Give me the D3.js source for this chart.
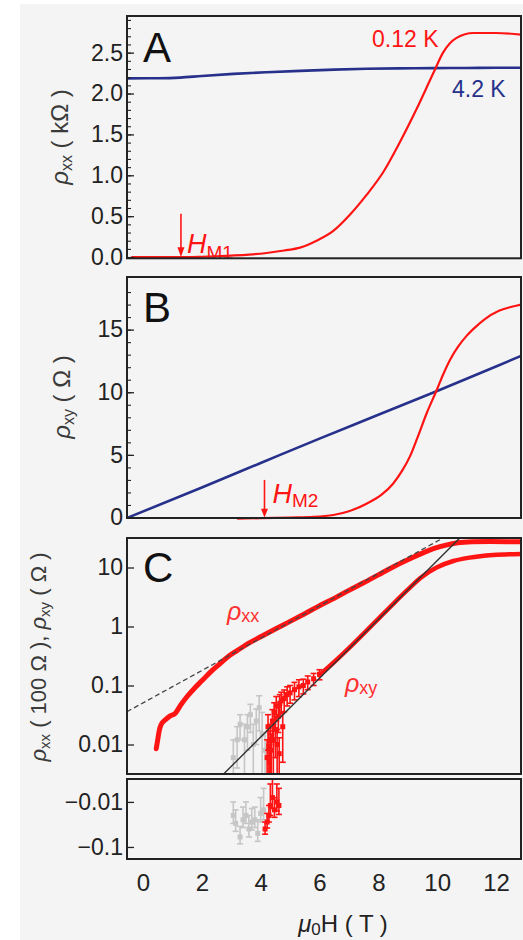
<!DOCTYPE html>
<html>
<head>
<meta charset="utf-8">
<script src="https://d3js.org/d3.v7.min.js"></script>
<style>
  body { margin: 0; background: #fff; }
  svg text { font-family: "Liberation Sans", Arial, sans-serif; }
</style>
</head>
<body>
<svg id="fig" width="523" height="940"></svg>
<script>
// ---- panel A : rho_xx (kOhm)
var aRedX = [-0.4, 0.5, 1.0, 1.5, 2.0, 2.5, 3.0, 3.6, 4.2, 4.8, 5.34, 5.9, 6.47, 7.04, 7.6, 8.17, 8.74, 9.3, 9.87, 10.2, 10.66, 11.23, 12.0, 12.86];
var aRedY = [0.0, 0.0, 0.0, 0.0, 0.004, 0.01, 0.018, 0.03, 0.05, 0.08, 0.115, 0.2, 0.32, 0.52, 0.76, 1.04, 1.41, 1.81, 2.25, 2.5, 2.68, 2.74, 2.74, 2.72];
var aBlueX = [-0.54, 0.5, 1.26, 2.0, 3.07, 4.2, 5.34, 6.5, 7.6, 8.7, 9.87, 11.0, 12.0, 12.86];
var aBlueY = [2.185, 2.187, 2.195, 2.215, 2.24, 2.26, 2.277, 2.292, 2.303, 2.308, 2.31, 2.313, 2.315, 2.315];
var aMajor = [0, 0.5, 1.0, 1.5, 2.0, 2.5];
var aMinor = d3.range(0, 2.95, 0.1);

// ---- panel B : rho_xy (Ohm)
var bRedX = [3.2, 4.0, 5.0, 5.8, 6.47, 7.0, 7.6, 8.1, 8.5, 8.8, 9.08, 9.35, 9.64, 9.99, 10.2, 10.44, 10.7, 11.0, 11.3, 11.6, 12.1, 12.5, 12.86];
var bRedY = [-0.1, -0.05, 0.0, 0.05, 0.2, 0.5, 1.1, 1.8, 2.7, 3.7, 4.9, 6.5, 8.3, 10.2, 11.4, 12.6, 13.6, 14.5, 15.2, 15.8, 16.5, 16.8, 17.0];
var bBlueX = [-0.5, 2, 4, 6, 8, 10, 12, 12.85];
var bBlueY = [0, 2.4, 4.35, 6.3, 8.2, 10.1, 12.05, 12.9];
var bMajor = [0, 5, 10, 15];
var bMinor = d3.range(0, 19, 1);

// ---- panel C : log scale, rho_xx in 100 Ohm, rho_xy in Ohm
var cXXx = [0.45, 0.5, 0.55, 0.62, 0.75, 0.9, 1.1, 1.3, 1.5, 1.75, 2.0, 2.3, 2.6, 2.9, 3.2, 3.5, 4.0, 4.5, 5.0, 5.5, 6.0, 6.5, 7.0, 7.5, 8.0, 8.5, 9.0, 9.5, 9.9, 10.3, 10.7, 11.2, 11.8, 12.4, 12.85];
var cXXy = [0.0085, 0.012, 0.017, 0.022, 0.026, 0.03, 0.034, 0.048, 0.065, 0.09, 0.12, 0.17, 0.23, 0.31, 0.39, 0.49, 0.67, 0.91, 1.22, 1.65, 2.25, 3.0, 4.1, 5.5, 7.5, 10.2, 13.5, 17.5, 21, 24, 26.2, 27.2, 27.5, 27.4, 27.3];
var cXYx = [6.0, 6.5, 7.0, 7.5, 8.0, 8.5, 9.0, 9.42, 9.98, 10.55, 11.1, 11.9, 12.85];
var cXYy = [0.15, 0.25, 0.43, 0.76, 1.35, 2.4, 4.2, 6.6, 10.0, 12.9, 14.7, 16.3, 17.0];
// low-field rho_xy points with error bars
var cLowX = [4.22, 4.25, 4.28, 4.3, 4.33, 4.36, 4.4, 4.43, 4.46, 4.5, 4.53, 4.56, 4.6, 4.63, 4.65, 4.7, 4.75, 4.8, 4.9, 5.0, 5.15, 5.3, 5.45, 5.6, 5.8, 6.0];
var cLowY = [0.006, 0.02, 0.009, 0.005, 0.012, 0.008, 0.025, 0.012, 0.035, 0.018, 0.045, 0.01, 0.03, 0.007, 0.05, 0.055, 0.02, 0.06, 0.07, 0.075, 0.085, 0.095, 0.1, 0.115, 0.13, 0.155];
var cLowE = [0.006, 0.012, 0.008, 0.005, 0.01, 0.007, 0.014, 0.01, 0.016, 0.012, 0.02, 0.008, 0.014, 0.006, 0.02, 0.022, 0.015, 0.024, 0.025, 0.025, 0.028, 0.03, 0.028, 0.03, 0.03, 0.03];
var cNegX = [4.15, 4.22, 4.28, 4.33, 4.4, 4.47, 4.55, 4.62];
var cNegY = [-0.04, -0.028, -0.02, -0.012, -0.008, -0.015, -0.01, -0.012];
var cNegE = [0.012, 0.01, 0.008, 0.008, 0.006, 0.007, 0.006, 0.007];
var grayX = [3.07, 3.2, 3.3, 3.45, 3.55, 3.65, 3.75, 3.85, 3.95, 4.05, 4.15];
var grayY = [0.006, 0.012, 0.022, 0.012, 0.02, 0.032, 0.01, 0.025, 0.042, 0.015, 0.008];
var grayE = [0.006, 0.008, 0.01, 0.01, 0.012, 0.016, 0.012, 0.015, 0.025, 0.02, 0.008];
var grayNegX = [3.07, 3.15, 3.3, 3.4, 3.5, 3.6, 3.7, 3.8, 3.9, 4.0, 4.1];
var grayNegY = [-0.02, -0.03, -0.06, -0.025, -0.02, -0.04, -0.028, -0.025, -0.05, -0.018, -0.015];
var grayNegE = [0.01, 0.015, 0.025, 0.012, 0.01, 0.02, 0.014, 0.012, 0.025, 0.01, 0.01];
// exponential fits (two end points each)
var fitXX = [[-0.544, 0.036], [10.2, 31.6]];
var fitXY = [[2.74, 0.00316], [10.77, 31.6]];
var cMajor = [0.01, 0.1, 1, 10];
var cNegTicks = [0.01, 0.1];

var xTicks = [0, 2, 4, 6, 8, 10, 12];
var hM1 = 1.29, hM2 = 4.13;

var RED = "#ff1414", BLUE = "#27318b", INK = "#222";

var svg = d3.select("#fig");
svg.append("rect").attr("x", 20).attr("y", 4).attr("width", 503).attr("height", 936).attr("fill", "#f4f4f4");

var x = d3.scaleLinear().domain([-0.544, 12.85]).range([127, 521]);
var yA = d3.scaleLinear().domain([-0.015, 2.948]).range([258.3, 16]);
var yB = d3.scaleLinear().domain([-0.04, 19.2]).range([518, 277]);
var yC = d3.scaleLog().domain([Math.pow(10, -2.5), Math.pow(10, 1.5)]).range([774, 538]);
var yN = d3.scaleLog().domain([0.0031, 0.185]).range([779, 859]);

var defs = svg.append("defs");
function clip(id, y0, y1) {
  defs.append("clipPath").attr("id", id).append("rect")
    .attr("x", 127).attr("y", y0).attr("width", 394).attr("height", y1 - y0);
  return svg.append("g").attr("clip-path", "url(#" + id + ")");
}

function line(ys) {
  return d3.line().x(function(d){ return x(d[0]); }).y(function(d){ return ys(d[1]); }).curve(d3.curveMonotoneX);
}

function yAxis(scale, major, minor, fmt) {
  var g = svg.append("g").attr("transform", "translate(127,0)")
    .call(d3.axisLeft(scale).tickValues(major).tickSize(-7).tickPadding(4).tickFormat(fmt));
  g.select(".domain").remove();
  g.attr("font-size", 23).attr("font-family", "Liberation Sans, Arial, sans-serif").attr("color", INK);
  g.selectAll("line").attr("stroke-width", 1.3);
  if (minor) {
    var m = svg.append("g").attr("transform", "translate(127,0)")
      .call(d3.axisLeft(scale).tickValues(minor).tickSize(-4).tickFormat(""));
    m.select(".domain").remove();
    m.attr("color", INK).selectAll("line").attr("stroke-width", 1.1);
  }
}

// ---------- panel A
var gA = clip("clipA", 16, 262);
gA.append("path").datum(d3.zip(aBlueX, aBlueY)).attr("d", line(yA))
  .attr("fill", "none").attr("stroke", BLUE).attr("stroke-width", 2.6);
gA.append("path").datum(d3.zip(aRedX, aRedY)).attr("d", line(yA))
  .attr("fill", "none").attr("stroke", RED).attr("stroke-width", 2.2);
yAxis(yA, aMajor, aMinor, d3.format(".1f"));

var gA2 = clip("clipA2", 16, 258.3);
gA2.append("line").attr("x1", x(hM1)).attr("x2", x(hM1)).attr("y1", yA(0.53)).attr("y2", yA(0.1))
  .attr("stroke", RED).attr("stroke-width", 1.6);
gA2.append("path").attr("d", "M" + (x(hM1) - 3.5) + "," + yA(0.12) + "L" + (x(hM1) + 3.5) + "," + yA(0.12) + "L" + x(hM1) + "," + yA(0) + "Z").attr("fill", RED);
var tA = gA2.append("text").attr("x", x(hM1) + 6).attr("y", 253).attr("fill", RED);
tA.append("tspan").attr("font-style", "italic").attr("font-size", 27).text("H");
tA.append("tspan").attr("font-size", 19).attr("dy", 6).text("M1");

svg.append("text").attr("x", 143).attr("y", 62).attr("font-size", 42).attr("fill", "#111").text("A");
svg.append("text").attr("x", 372).attr("y", 47).attr("font-size", 23).attr("fill", RED).text("0.12 K");
svg.append("text").attr("x", 452).attr("y", 97).attr("font-size", 23).attr("fill", BLUE).text("4.2 K");

var tiA = svg.append("text").attr("transform", "translate(68,137) rotate(-90)")
  .attr("text-anchor", "middle").attr("font-size", 24).attr("fill", "#3a3a3a");
tiA.append("tspan").attr("font-style", "italic").text("ρ");
tiA.append("tspan").attr("font-size", 16).attr("dy", 4).text("xx");
tiA.append("tspan").attr("dy", -4).text(" ( kΩ )");

// ---------- panel B
var gB = clip("clipB", 277, 521);
gB.append("path").datum(d3.zip(bBlueX, bBlueY)).attr("d", line(yB))
  .attr("fill", "none").attr("stroke", BLUE).attr("stroke-width", 2.6);
gB.append("path").datum(d3.zip(bRedX, bRedY)).attr("d", line(yB))
  .attr("fill", "none").attr("stroke", RED).attr("stroke-width", 2.2);
yAxis(yB, bMajor, bMinor, d3.format("d"));

svg.append("line").attr("x1", x(hM2)).attr("x2", x(hM2)).attr("y1", yB(3)).attr("y2", yB(0.6))
  .attr("stroke", RED).attr("stroke-width", 1.6);
svg.append("path").attr("d", "M" + (x(hM2) - 3.5) + "," + yB(0.7) + "L" + (x(hM2) + 3.5) + "," + yB(0.7) + "L" + x(hM2) + "," + yB(0) + "Z").attr("fill", RED);
var tB = svg.append("text").attr("x", x(hM2) + 8).attr("y", 503).attr("fill", RED);
tB.append("tspan").attr("font-style", "italic").attr("font-size", 27).text("H");
tB.append("tspan").attr("font-size", 19).attr("dy", 4).text("M2");

svg.append("text").attr("x", 143).attr("y", 322).attr("font-size", 42).attr("fill", "#111").text("B");

var tiB = svg.append("text").attr("transform", "translate(70,397) rotate(-90)")
  .attr("text-anchor", "middle").attr("font-size", 24).attr("fill", "#3a3a3a");
tiB.append("tspan").attr("font-style", "italic").text("ρ");
tiB.append("tspan").attr("font-size", 16).attr("dy", 4).text("xy");
tiB.append("tspan").attr("dy", -4).text(" ( Ω )");

// ---------- panel C
function errBars(g, xs, ys, es, scale, color, neg) {
  var d = scale.domain(), r = scale.range();
  xs.forEach(function(xv, i) {
    var m = Math.abs(ys[i]);
    var lo = m - es[i], hi = m + es[i];
    var pLo = lo > d[0] ? scale(lo) : r[0] + (neg ? -3 : 3);
    var pHi = scale(hi), px = x(xv), pm = scale(m);
    g.append("line").attr("x1", px).attr("x2", px).attr("y1", pLo).attr("y2", pHi)
      .attr("stroke", color).attr("stroke-width", 1.6);
    g.append("line").attr("x1", px - 3).attr("x2", px + 3).attr("y1", pHi).attr("y2", pHi)
      .attr("stroke", color).attr("stroke-width", 1.6);
    if (lo > d[0]) g.append("line").attr("x1", px - 3).attr("x2", px + 3).attr("y1", pLo).attr("y2", pLo)
      .attr("stroke", color).attr("stroke-width", 1.6);
    g.append("rect").attr("x", px - 2.5).attr("y", pm - 2.5).attr("width", 5).attr("height", 5).attr("fill", color);
  });
}

var gC = clip("clipC", 538, 774);
errBars(gC, grayX, grayY, grayE, yC, "#c6c6c6", false);
errBars(gC, cLowX, cLowY, cLowE, yC, RED, false);
gC.append("path").datum(d3.zip(cXXx, cXXy)).attr("d", line(yC))
  .attr("fill", "none").attr("stroke", RED).attr("stroke-width", 5).attr("stroke-linecap", "round");
gC.append("path").datum(d3.zip(cXYx, cXYy)).attr("d", line(yC))
  .attr("fill", "none").attr("stroke", RED).attr("stroke-width", 4.5).attr("stroke-linecap", "round");
gC.append("path").datum(fitXX).attr("d", d3.line().x(function(d){ return x(d[0]); }).y(function(d){ return yC(d[1]); }))
  .attr("fill", "none").attr("stroke", "#444").attr("stroke-width", 1.3).attr("stroke-dasharray", "5,3");
gC.append("path").datum(fitXY).attr("d", d3.line().x(function(d){ return x(d[0]); }).y(function(d){ return yC(d[1]); }))
  .attr("fill", "none").attr("stroke", "#333").attr("stroke-width", 1.4);
yAxis(yC, cMajor, null, function(d){ return String(d); });

var gN = clip("clipN", 779, 859);
errBars(gN, grayNegX, grayNegY, grayNegE, yN, "#c6c6c6", true);
errBars(gN, cNegX, cNegY, cNegE, yN, RED, true);
yAxis(yN, cNegTicks, null, function(d){ return "−" + d; });

svg.append("text").attr("x", 143).attr("y", 582).attr("font-size", 42).attr("fill", "#111").text("C");

var lx = svg.append("text").attr("x", 227).attr("y", 620).attr("fill", "#ff3030");
lx.append("tspan").attr("font-style", "italic").attr("font-size", 25).text("ρ");
lx.append("tspan").attr("font-size", 18).attr("dy", 2).text("xx");
var ly = svg.append("text").attr("x", 345).attr("y", 692).attr("fill", "#ff3030");
ly.append("tspan").attr("font-style", "italic").attr("font-size", 25).text("ρ");
ly.append("tspan").attr("font-size", 18).attr("dy", 2).text("xy");

var tiC = svg.append("text").attr("transform", "translate(46,657) rotate(-90)")
  .attr("text-anchor", "middle").attr("font-size", 22).attr("fill", "#3a3a3a");
tiC.append("tspan").attr("font-style", "italic").text("ρ");
tiC.append("tspan").attr("font-size", 15).attr("dy", 4).text("xx");
tiC.append("tspan").attr("dy", -4).text(" ( 100 Ω ), ");
tiC.append("tspan").attr("font-style", "italic").text("ρ");
tiC.append("tspan").attr("font-size", 15).attr("dy", 4).text("xy");
tiC.append("tspan").attr("dy", -4).text(" ( Ω )");

// ---------- frames
[[16, 258.3], [277, 518], [538, 774], [779, 859]].forEach(function(f) {
  svg.append("rect").attr("x", 127).attr("y", f[0]).attr("width", 394).attr("height", f[1] - f[0])
    .attr("fill", "none").attr("stroke", INK).attr("stroke-width", 2);
});

// ---------- x axis
var gx = svg.append("g").attr("transform", "translate(0,859)")
  .call(d3.axisBottom(x).tickValues(xTicks).tickSize(0).tickPadding(15).tickFormat(d3.format("d")));
gx.select(".domain").remove();
gx.attr("font-size", 24).attr("font-family", "Liberation Sans, Arial, sans-serif").attr("color", INK);

var tx = svg.append("text").attr("x", 343).attr("y", 932).attr("text-anchor", "middle")
  .attr("font-size", 24).attr("fill", INK);
tx.append("tspan").attr("font-style", "italic").text("μ");
tx.append("tspan").attr("font-size", 17).attr("dy", 3).text("0");
tx.append("tspan").attr("dy", -3).text("H ( T )");
</script>
</body>
</html>
